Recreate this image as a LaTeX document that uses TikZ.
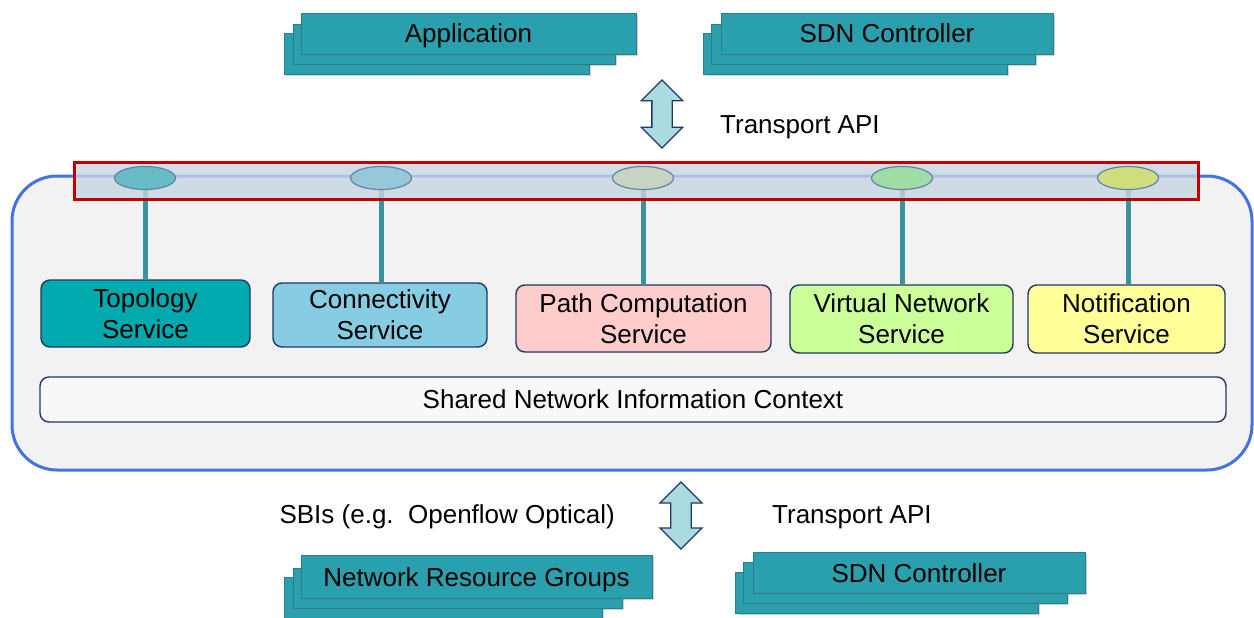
\documentclass[tikz,border=0pt]{standalone}
\usepackage{fontspec}
\setmainfont{Liberation Sans}
\usetikzlibrary{shapes.geometric,shapes.arrows,shadows}
\definecolor{CardTeal}{HTML}{2A9FAE}
\definecolor{CardEdge}{HTML}{23808C}
\definecolor{PanelBlue}{HTML}{4472E0}
\definecolor{PanelGray}{HTML}{F2F2F2}
\definecolor{BarFill}{HTML}{C5D6E2}
\definecolor{BarRed}{HTML}{C00000}
\definecolor{BoxNavy}{HTML}{1F3864}
\definecolor{StemTeal}{HTML}{3A929A}
\definecolor{PortEdge}{HTML}{6283A6}
\definecolor{ArrowFill}{HTML}{A9DBE1}
\definecolor{TopoFill}{HTML}{00A9AE}
\definecolor{ConnFill}{HTML}{86CDE3}
\definecolor{PathFill}{HTML}{FFCCCC}
\definecolor{VnetFill}{HTML}{CCFF99}
\definecolor{NotifFill}{HTML}{FFFF99}
\definecolor{SharedFill}{HTML}{F8F8F8}
\definecolor{TopoPort}{HTML}{67BCC7}
\definecolor{ConnPort}{HTML}{97C8DA}
\definecolor{PathPort}{HTML}{C8D3C3}
\definecolor{VnetPort}{HTML}{A0DCA5}
\definecolor{NotifPort}{HTML}{CFDD7F}
\pgfdeclarelayer{back}
\pgfdeclarelayer{mid}
\pgfsetlayers{back,mid,main}
\tikzset{
  card/.style={fill=CardTeal,draw=CardEdge,line width=0.6pt,inner sep=0pt,
    drop shadow={shadow xshift=1.5pt,shadow yshift=-2pt,opacity=.35},
    text height=19pt,text depth=0pt,font=\fontsize{26}{31}\selectfont},
  service/.style={draw=BoxNavy,line width=1.4pt,rounded corners=9pt,
    align=center,inner sep=0pt,font=\fontsize{26}{31}\selectfont},
  port/.style={ellipse,draw=PortEdge,line width=1.2pt,minimum width=61pt,
    minimum height=23pt,inner sep=0pt},
  stem/.style={draw=StemTeal,line width=5pt},
  updown/.style={double arrow,double arrow head extend=10.5pt,fill=ArrowFill,
    draw=BoxNavy,line width=1.3pt,inner sep=9.5pt,shape border rotate=90},
  apitext/.style={anchor=base,inner sep=0pt,font=\fontsize{26}{31}\selectfont}
}
\begin{document}
\begin{tikzpicture}[x=1pt,y=-1pt]
  \useasboundingbox (0,0) rectangle (1254,618);
  % northbound clients
  \node[card,minimum width=305pt,minimum height=41pt] (app3) at (436.5,53.5) {};
  \node[card,minimum width=322pt,minimum height=40pt] (app2) at (454,44) {};
  \node[card,minimum width=335pt,minimum height=41pt] (app1) at (468.5,33.5) {Application};
  \node[card,minimum width=304pt,minimum height=41pt] (ctl3) at (855,53.5) {};
  \node[card,minimum width=324pt,minimum height=40pt] (ctl2) at (873,44) {};
  \node[card,minimum width=332pt,minimum height=41pt] (ctl1) at (887,33.5) {SDN Controller};
  \node[updown,minimum height=68pt,minimum width=40pt] (upper) at (662,114) {};
  \node[apitext] (nbi) at (720,133) [anchor=base west] {Transport API};
  % controller core
  \begin{pgfonlayer}{back}
    \node[draw=PanelBlue,fill=PanelGray,line width=3pt,rounded corners=45pt,
      minimum width=1240pt,minimum height=294pt] (core) at (632,323) {};
  \end{pgfonlayer}
  \node[draw=BarRed,line width=3pt,fill=BarFill,fill opacity=.8,
    minimum width=1124pt,minimum height=37pt] (tapi) at (636,180.5) {};
  \node[port,fill=TopoPort] (p1) at (145,178) {};
  \node[port,fill=ConnPort] (p2) at (381,178) {};
  \node[port,fill=PathPort] (p3) at (643,178) {};
  \node[port,fill=VnetPort] (p4) at (902,178) {};
  \node[port,fill=NotifPort] (p5) at (1128,178) {};
  \node[service,fill=TopoFill,minimum width=209pt,minimum height=67pt] (topo) at (145.5,313.5) {Topology\\Service};
  \node[service,fill=ConnFill,minimum width=214pt,minimum height=64pt] (conn) at (380,315) {Connectivity\\Service};
  \node[service,fill=PathFill,minimum width=255pt,minimum height=67pt] (path) at (643.5,318.5) {Path Computation\\Service};
  \node[service,fill=VnetFill,minimum width=223pt,minimum height=68pt] (vnet) at (901.5,319) {Virtual Network\\Service};
  \node[service,fill=NotifFill,minimum width=197pt,minimum height=68pt] (notif) at (1126.5,319) {Notification\\Service};
  \node[service,fill=SharedFill,minimum width=1186pt,minimum height=45pt] (shared) at (633,399.5) {Shared Network Information Context};
  \begin{pgfonlayer}{mid}
    \draw[stem] (p1) -- (p1 |- topo.north);
    \draw[stem] (p2) -- (p2 |- conn.north);
    \draw[stem] (p3) -- (p3 |- path.north);
    \draw[stem] (p4) -- (p4 |- vnet.north);
    \draw[stem] (p5) -- (p5 |- notif.north);
  \end{pgfonlayer}
  % southbound side
  \node[updown,minimum height=67pt,minimum width=42pt] (lower) at (681,515.5) {};
  \node[apitext] (sbi) at (615,523) [anchor=base east] {SBIs (e.g.\ \ Openflow Optical)};
  \node[apitext] (sapi) at (772,523) [anchor=base west] {Transport API};
  \node[card,minimum width=318pt,minimum height=43pt] (nrg3) at (443,598.5) {};
  \node[card,minimum width=329pt,minimum height=40pt] (nrg2) at (457.5,588) {};
  \node[card,minimum width=351pt,minimum height=43pt] (nrg1) at (476.5,576.5) {Network Resource Groups};
  \node[card,minimum width=303pt,minimum height=41pt] (sdn3) at (886.5,592.5) {};
  \node[card,minimum width=324pt,minimum height=41pt] (sdn2) at (905,582.5) {};
  \node[card,minimum width=332pt,minimum height=41pt] (sdn1) at (919,572.5) {SDN Controller};
\end{tikzpicture}
\end{document}
